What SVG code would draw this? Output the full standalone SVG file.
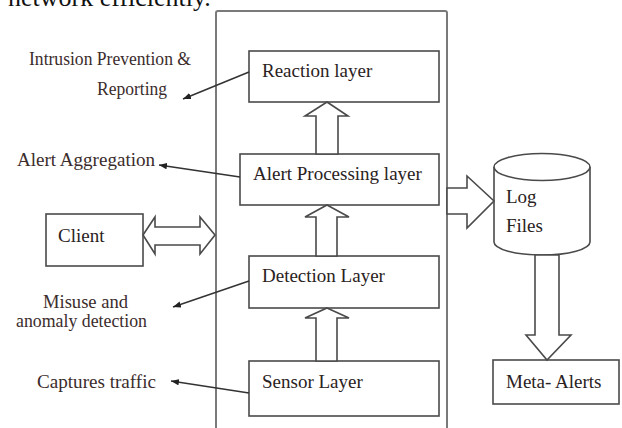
<svg xmlns="http://www.w3.org/2000/svg" width="622" height="428" viewBox="0 0 622 428">
<defs>
<style>
.box{fill:#fff;stroke:#4a4a4a;stroke-width:1.6}
.outer{fill:none;stroke:#7a7a7a;stroke-width:2}
text{font-family:'Liberation Serif','Times New Roman',serif}
.t{font-size:19px;fill:#2a2222}
.lbl{font-size:19px;fill:#3b2c2c}
.hollow{fill:#fff;stroke:#4a4a4a;stroke-width:1.6;stroke-linejoin:miter}
.conn{stroke:#333;stroke-width:1.5;fill:none}
</style>
<marker id="ah" viewBox="0 0 10 8" refX="10" refY="4" markerWidth="8" markerHeight="6.4" markerUnits="userSpaceOnUse" orient="auto">
<path d="M0,0 L10,4 L0,8 Z" fill="#222"/>
</marker>
</defs>
<rect width="622" height="428" fill="#fff"/>
<text x="8" y="6" font-family="Liberation Serif, serif" font-size="26" fill="#111">network efficiently.</text>

<g id="system">
<rect class="outer" x="216" y="11" width="231" height="440" rx="2"/>
</g>

<g id="reaction">
<rect class="box" x="249" y="51" width="190" height="51"/>
<text class="t" font-family="Liberation Serif, serif" x="262" y="77">Reaction layer</text>
</g>
<g id="alert-processing">
<rect class="box" x="240" y="154" width="199" height="51"/>
<text class="t" font-family="Liberation Serif, serif" x="253" y="180">Alert Processing layer</text>
</g>
<g id="detection">
<rect class="box" x="249" y="256" width="190" height="52"/>
<text class="t" font-family="Liberation Serif, serif" x="262" y="282">Detection Layer</text>
</g>
<g id="sensor">
<rect class="box" x="249" y="361" width="190" height="55"/>
<text class="t" font-family="Liberation Serif, serif" x="262" y="388">Sensor Layer</text>
</g>
<g id="client">
<rect class="box" x="46" y="214" width="97" height="52"/>
<text class="t" font-family="Liberation Serif, serif" x="58" y="242">Client</text>
</g>
<g id="log-files">
<path class="box" d="M494,167 L494,242 A48,13 0 0 0 590,242 L590,167"/>
<ellipse class="box" cx="542" cy="167" rx="48" ry="13.5"/>
<text class="t" font-family="Liberation Serif, serif" x="506" y="203">Log</text>
<text class="t" font-family="Liberation Serif, serif" x="506" y="232">Files</text>
</g>
<g id="meta-alerts">
<rect class="box" x="493" y="360" width="126" height="44"/>
<text class="t" font-family="Liberation Serif, serif" x="506" y="388">Meta- Alerts</text>
</g>

<g id="label-intrusion">
<text class="lbl" font-family="Liberation Serif, serif" x="29" y="65" textLength="162" lengthAdjust="spacingAndGlyphs">Intrusion Prevention &amp;</text>
<text class="lbl" font-family="Liberation Serif, serif" x="97" y="95" textLength="70" lengthAdjust="spacingAndGlyphs">Reporting</text>
</g>
<g id="label-aggregation">
<text class="lbl" font-family="Liberation Serif, serif" x="17" y="166" textLength="138" lengthAdjust="spacingAndGlyphs">Alert Aggregation</text>
</g>
<g id="label-misuse">
<text class="lbl" font-family="Liberation Serif, serif" x="43" y="308" textLength="85" lengthAdjust="spacingAndGlyphs">Misuse and</text>
<text class="lbl" font-family="Liberation Serif, serif" x="16" y="327" textLength="131" lengthAdjust="spacingAndGlyphs">anomaly detection</text>
</g>
<g id="label-captures">
<text class="lbl" font-family="Liberation Serif, serif" x="37" y="388" textLength="119" lengthAdjust="spacingAndGlyphs">Captures traffic</text>
</g>

<g id="connectors">
<line class="conn" x1="249" y1="72" x2="183" y2="99" marker-end="url(#ah)"/>
<line class="conn" x1="240" y1="177" x2="159" y2="165" marker-end="url(#ah)"/>
<line class="conn" x1="249" y1="281" x2="173" y2="307" marker-end="url(#ah)"/>
<line class="conn" x1="249" y1="393" x2="171" y2="381" marker-end="url(#ah)"/>
<polygon class="hollow" points="327,102 348,116 338,116 338,154 316,154 316,116 305,116"/>
<polygon class="hollow" points="327,205 349,217 337,217 337,256 316,256 316,217 305,217"/>
<polygon class="hollow" points="327,308 349,318 337,318 337,361 316,361 316,318 305,318"/>
<polygon class="hollow" points="143,235 155,217 155,227 200,227 200,217 215,235 200,254 200,245 155,245 155,254"/>
<polygon class="hollow" points="447,188 467,188 467,176 494,201 467,228 467,214 447,214"/>
<polygon class="hollow" points="535,255 559,255 559,335 571,335 547,360 526,335 535,335"/>
</g>
</svg>
